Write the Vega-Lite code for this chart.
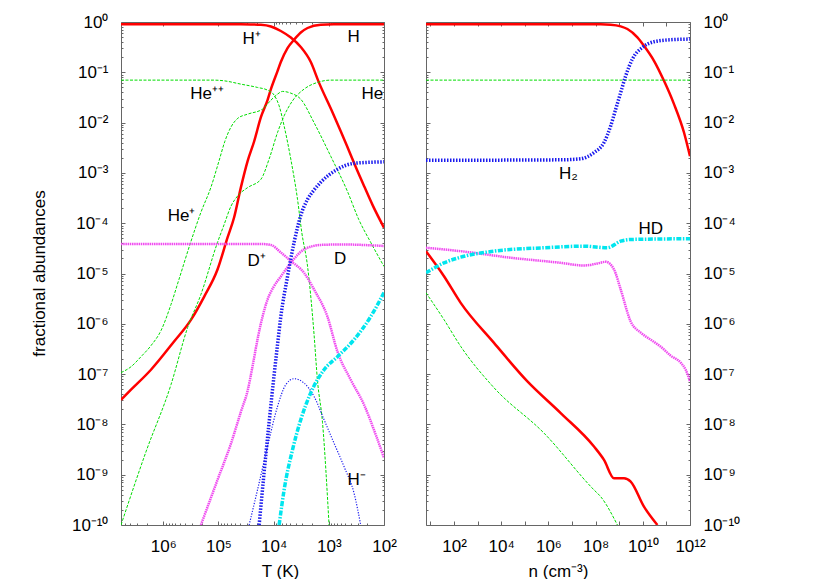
{
  "$schema": "https://vega.github.io/schema/vega-lite/v6.json",
  "background": "white",
  "padding": {"left": 30, "top": 13, "right": 5, "bottom": 0},
  "bounds": "flush",
  "spacing": 42,
  "config": {
    "view": {"stroke": null},
    "font": "Liberation Sans",
    "axis": {"grid": false, "labelFont": "Liberation Sans", "labelFontSize": 17, "labelColor": "#000", "titleFont": "Liberation Sans", "titleFontSize": 17, "titleFontWeight": "normal", "titleColor": "#000", "domainColor": "#666", "tickColor": "#666", "labelFlush": false, "labelOverlap": false, "labelBound": false},
    "text": {"font": "Liberation Sans", "fontSize": 17}
  },
  "datasets": {
    "left": [
      {"s": "H+", "T": 5830000, "v": 0.9}, {"s": "H+", "T": 39200, "v": 0.9}, {"s": "H+", "T": 25900, "v": 0.895}, {"s": "H+", "T": 17000, "v": 0.88}, {"s": "H+", "T": 11200, "v": 0.814}, {"s": "H+", "T": 7410, "v": 0.662}, {"s": "H+", "T": 4880, "v": 0.491}, {"s": "H+", "T": 3220, "v": 0.318}, {"s": "H+", "T": 2120, "v": 0.16}, {"s": "H+", "T": 1520, "v": 0.0638}, {"s": "H+", "T": 859, "v": 0.0161}, {"s": "H+", "T": 608, "v": 0.00674}, {"s": "H+", "T": 435, "v": 0.00282}, {"s": "H+", "T": 312, "v": 0.00118}, {"s": "H+", "T": 224, "v": 0.000516}, {"s": "H+", "T": 160, "v": 0.000226}, {"s": "H+", "T": 100, "v": 0.0000813},
      {"s": "H", "T": 5830000, "v": 3.09e-8}, {"s": "H", "T": 3840000, "v": 4.89e-8}, {"s": "H", "T": 1670000, "v": 1.22e-7}, {"s": "H", "T": 632000, "v": 4.5e-7}, {"s": "H", "T": 315000, "v": 1.2e-6}, {"s": "H", "T": 181000, "v": 3.48e-6}, {"s": "H", "T": 104000, "v": 1.2e-5}, {"s": "H", "T": 68300, "v": 5.21e-5}, {"s": "H", "T": 51900, "v": 1.31e-4}, {"s": "H", "T": 39200, "v": 5.16e-4}, {"s": "H", "T": 29700, "v": 0.0017}, {"s": "H", "T": 22500, "v": 0.00426}, {"s": "H", "T": 17000, "v": 0.0128}, {"s": "H", "T": 12900, "v": 0.0279}, {"s": "H", "T": 11200, "v": 0.0463}, {"s": "H", "T": 8500, "v": 0.1057}, {"s": "H", "T": 7410, "v": 0.16}, {"s": "H", "T": 5600, "v": 0.303}, {"s": "H", "T": 4260, "v": 0.444}, {"s": "H", "T": 3220, "v": 0.62}, {"s": "H", "T": 2430, "v": 0.76}, {"s": "H", "T": 1400, "v": 0.885}, {"s": "H", "T": 814, "v": 0.9}, {"s": "H", "T": 100, "v": 0.9},
      {"s": "He++", "T": 5830000, "v": 0.0699}, {"s": "He++", "T": 121000, "v": 0.0699}, {"s": "He++", "T": 78700, "v": 0.0677}, {"s": "He++", "T": 39200, "v": 0.0582}, {"s": "He++", "T": 19600, "v": 0.05}, {"s": "He++", "T": 12900, "v": 0.0442}, {"s": "He++", "T": 9790, "v": 0.0352}, {"s": "He++", "T": 7950, "v": 0.0215}, {"s": "He++", "T": 6460, "v": 0.0086}, {"s": "He++", "T": 4880, "v": 0.00187}, {"s": "He++", "T": 3690, "v": 0.000298}, {"s": "He++", "T": 3090, "v": 6.56e-5}, {"s": "He++", "T": 2430, "v": 1.4e-5}, {"s": "He++", "T": 1850, "v": 6.1e-7}, {"s": "He++", "T": 1610, "v": 7.73e-8}, {"s": "He++", "T": 1300, "v": 1.08e-8}, {"s": "He++", "T": 990, "v": 1e-10},
      {"s": "He+", "T": 5830000, "v": 1.07e-7}, {"s": "He+", "T": 3840000, "v": 1.4e-7}, {"s": "He+", "T": 2530000, "v": 2.22e-7}, {"s": "He+", "T": 1670000, "v": 3.68e-7}, {"s": "He+", "T": 1100000, "v": 7.32e-7}, {"s": "He+", "T": 725000, "v": 2.41e-6}, {"s": "He+", "T": 520000, "v": 7.59e-6}, {"s": "He+", "T": 315000, "v": 4.34e-5}, {"s": "He+", "T": 208000, "v": 1.64e-4}, {"s": "He+", "T": 137000, "v": 5.16e-4}, {"s": "He+", "T": 98100, "v": 0.0017}, {"s": "He+", "T": 76400, "v": 0.00426}, {"s": "He+", "T": 59500, "v": 0.0081}, {"s": "He+", "T": 44500, "v": 0.0122}, {"s": "He+", "T": 29700, "v": 0.0147}, {"s": "He+", "T": 15900, "v": 0.0185}, {"s": "He+", "T": 11200, "v": 0.0279}, {"s": "He+", "T": 8500, "v": 0.0368}, {"s": "He+", "T": 6900, "v": 0.0417}, {"s": "He+", "T": 4880, "v": 0.0385}, {"s": "He+", "T": 3220, "v": 0.0292}, {"s": "He+", "T": 1870, "v": 0.0102}, {"s": "He+", "T": 922, "v": 0.00214}, {"s": "He+", "T": 460, "v": 0.00043}, {"s": "He+", "T": 287, "v": 1.19e-4}, {"s": "He+", "T": 174, "v": 4.15e-5}, {"s": "He+", "T": 100, "v": 1.38e-5},
      {"s": "He", "T": 5830000, "v": 1e-10}, {"s": "He", "T": 2060000, "v": 2.84e-9}, {"s": "He", "T": 725000, "v": 6.15e-8}, {"s": "He", "T": 362000, "v": 8.4e-7}, {"s": "He", "T": 208000, "v": 3.82e-6}, {"s": "He", "T": 104000, "v": 4.15e-5}, {"s": "He", "T": 78700, "v": 9.46e-5}, {"s": "He", "T": 59500, "v": 2.16e-4}, {"s": "He", "T": 45000, "v": 3.47e-4}, {"s": "He", "T": 29700, "v": 5.09e-4}, {"s": "He", "T": 17000, "v": 7.46e-4}, {"s": "He", "T": 12100, "v": 0.00187}, {"s": "He", "T": 8500, "v": 0.00635}, {"s": "He", "T": 6460, "v": 0.0136}, {"s": "He", "T": 4550, "v": 0.0271}, {"s": "He", "T": 2810, "v": 0.0463}, {"s": "He", "T": 1610, "v": 0.0629}, {"s": "He", "T": 922, "v": 0.0699}, {"s": "He", "T": 100, "v": 0.0699},
      {"s": "D+", "T": 5830000, "v": 3.87e-5}, {"s": "D+", "T": 17000, "v": 3.87e-5}, {"s": "D+", "T": 11200, "v": 3.7e-5}, {"s": "D+", "T": 7410, "v": 2.62e-5}, {"s": "D+", "T": 4880, "v": 1.77e-5}, {"s": "D+", "T": 2810, "v": 1.03e-5}, {"s": "D+", "T": 1850, "v": 4.8e-6}, {"s": "D+", "T": 1060, "v": 1.39e-6}, {"s": "D+", "T": 697, "v": 2.79e-7}, {"s": "D+", "T": 401, "v": 7.73e-8}, {"s": "D+", "T": 230, "v": 2.46e-8}, {"s": "D+", "T": 141, "v": 6.21e-9}, {"s": "D+", "T": 100, "v": 2.16e-9},
      {"s": "D", "T": 208000, "v": 1e-10}, {"s": "D", "T": 104000, "v": 7.87e-10}, {"s": "D", "T": 59500, "v": 4.11e-9}, {"s": "D", "T": 39200, "v": 1.78e-8}, {"s": "D", "T": 29300, "v": 4.89e-8}, {"s": "D", "T": 23800, "v": 1.54e-7}, {"s": "D", "T": 19300, "v": 5.31e-7}, {"s": "D", "T": 15700, "v": 1.46e-6}, {"s": "D", "T": 12900, "v": 3.03e-6}, {"s": "D", "T": 9920, "v": 5.51e-6}, {"s": "D", "T": 7410, "v": 8.71e-6}, {"s": "D", "T": 4880, "v": 1.63e-5}, {"s": "D", "T": 2810, "v": 3.01e-5}, {"s": "D", "T": 1400, "v": 3.7e-5}, {"s": "D", "T": 608, "v": 3.78e-5}, {"s": "D", "T": 100, "v": 3.53e-5},
      {"s": "H2", "T": 18300, "v": 1e-10}, {"s": "H2", "T": 14900, "v": 1.09e-9}, {"s": "H2", "T": 12100, "v": 1.08e-8}, {"s": "H2", "T": 9790, "v": 9.73e-8}, {"s": "H2", "T": 8500, "v": 3.85e-7}, {"s": "H2", "T": 7410, "v": 1.39e-6}, {"s": "H2", "T": 5600, "v": 8.71e-6}, {"s": "H2", "T": 4260, "v": 4.15e-5}, {"s": "H2", "T": 3220, "v": 1.43e-4}, {"s": "H2", "T": 2430, "v": 2.98e-4}, {"s": "H2", "T": 1870, "v": 4.5e-4}, {"s": "H2", "T": 1400, "v": 6.5e-4}, {"s": "H2", "T": 697, "v": 0.00118}, {"s": "H2", "T": 349, "v": 0.00155}, {"s": "H2", "T": 100, "v": 0.00166},
      {"s": "H-", "T": 27800, "v": 1e-10}, {"s": "H-", "T": 19600, "v": 4.98e-10}, {"s": "H-", "T": 12900, "v": 3.63e-9}, {"s": "H-", "T": 8500, "v": 2.27e-8}, {"s": "H-", "T": 6020, "v": 6.15e-8}, {"s": "H-", "T": 4260, "v": 8.09e-8}, {"s": "H-", "T": 2810, "v": 6.65e-8}, {"s": "H-", "T": 1850, "v": 3.59e-8}, {"s": "H-", "T": 1220, "v": 1.24e-8}, {"s": "H-", "T": 804, "v": 4.24e-9}, {"s": "H-", "T": 530, "v": 1.45e-9}, {"s": "H-", "T": 349, "v": 4.28e-10}, {"s": "H-", "T": 264, "v": 1e-10},
      {"s": "HD", "T": 7950, "v": 1e-10}, {"s": "HD", "T": 6460, "v": 4.98e-10}, {"s": "HD", "T": 4550, "v": 3.12e-9}, {"s": "HD", "T": 3220, "v": 1.24e-8}, {"s": "HD", "T": 2120, "v": 4.26e-8}, {"s": "HD", "T": 1220, "v": 1.22e-7}, {"s": "HD", "T": 697, "v": 2.22e-7}, {"s": "HD", "T": 349, "v": 4.84e-7}, {"s": "HD", "T": 174, "v": 1.39e-6}, {"s": "HD", "T": 100, "v": 4.19e-6}
    ],
    "right": [
      {"s": "H", "n": 6.51, "v": 0.9}, {"s": "H", "n": 1.64e8, "v": 0.9}, {"s": "H", "n": 4.36e8, "v": 0.885}, {"s": "H", "n": 1.16e9, "v": 0.82}, {"s": "H", "n": 2.23e9, "v": 0.725}, {"s": "H", "n": 5.9e9, "v": 0.496}, {"s": "H", "n": 1.12e10, "v": 0.337}, {"s": "H", "n": 2.98e10, "v": 0.1695}, {"s": "H", "n": 7.91e10, "v": 0.0677}, {"s": "H", "n": 2.1e11, "v": 0.0233}, {"s": "H", "n": 5.57e11, "v": 0.00635}, {"s": "H", "n": 1e12, "v": 0.00214},
      {"s": "H+", "n": 6.51, "v": 2.78e-5}, {"s": "H+", "n": 37.7, "v": 8.83e-6}, {"s": "H+", "n": 192, "v": 2.61e-6}, {"s": "H+", "n": 4955, "v": 4.17e-7}, {"s": "H+", "n": 129000, "v": 7.16e-8}, {"s": "H+", "n": 3320000, "v": 1.68e-8}, {"s": "H+", "n": 8.55e7, "v": 3.63e-9}, {"s": "H+", "n": 2.27e8, "v": 1.97e-9}, {"s": "H+", "n": 6.02e8, "v": 8.51e-10}, {"s": "H+", "n": 1.6e9, "v": 8.51e-10}, {"s": "H+", "n": 3.07e9, "v": 7.29e-10}, {"s": "H+", "n": 1.12e10, "v": 2.32e-10}, {"s": "H+", "n": 4.16e10, "v": 1e-10},
      {"s": "He", "n": 6.51, "v": 0.0699}, {"s": "He", "n": 1e12, "v": 0.0699},
      {"s": "He+", "n": 6.51, "v": 4.13e-6}, {"s": "He+", "n": 37.7, "v": 1.21e-6}, {"s": "He+", "n": 192, "v": 3.56e-7}, {"s": "He+", "n": 4955, "v": 5.36e-8}, {"s": "He+", "n": 651000, "v": 6.71e-9}, {"s": "He+", "n": 8.55e7, "v": 4.98e-10}, {"s": "He+", "n": 1.64e8, "v": 3.66e-10}, {"s": "He+", "n": 8.39e8, "v": 1e-10},
      {"s": "H2", "n": 6.51, "v": 0.00178}, {"s": "H2", "n": 3320000, "v": 0.00182}, {"s": "H2", "n": 2.34e7, "v": 0.00191}, {"s": "H2", "n": 8.55e7, "v": 0.00254}, {"s": "H2", "n": 2.27e8, "v": 0.00402}, {"s": "H2", "n": 4.36e8, "v": 0.0086}, {"s": "H2", "n": 7.11e8, "v": 0.0185}, {"s": "H2", "n": 1.16e9, "v": 0.0398}, {"s": "H2", "n": 1.89e9, "v": 0.0852}, {"s": "H2", "n": 3.63e9, "v": 0.183}, {"s": "H2", "n": 9.62e9, "v": 0.313}, {"s": "H2", "n": 2.98e10, "v": 0.405}, {"s": "H2", "n": 1.52e11, "v": 0.444}, {"s": "H2", "n": 1e12, "v": 0.458},
      {"s": "HD", "n": 6.51, "v": 1.03e-5}, {"s": "HD", "n": 37.7, "v": 1.63e-5}, {"s": "HD", "n": 192, "v": 2.11e-5}, {"s": "HD", "n": 4955, "v": 2.78e-5}, {"s": "HD", "n": 651000, "v": 3.25e-5}, {"s": "HD", "n": 3.23e7, "v": 3.5e-5}, {"s": "HD", "n": 3.16e8, "v": 3.25e-5}, {"s": "HD", "n": 1.16e9, "v": 4.4e-5}, {"s": "HD", "n": 3.07e9, "v": 4.75e-5}, {"s": "HD", "n": 1e12, "v": 4.91e-5},
      {"s": "D", "n": 6.51, "v": 3.25e-5}, {"s": "D", "n": 192, "v": 2.78e-5}, {"s": "D", "n": 25300, "v": 2.06e-5}, {"s": "D", "n": 3320000, "v": 1.63e-5}, {"s": "D", "n": 3.23e7, "v": 1.44e-5}, {"s": "D", "n": 1.19e8, "v": 1.58e-5}, {"s": "D", "n": 2.68e8, "v": 1.71e-5}, {"s": "D", "n": 6.02e8, "v": 1.2e-5}, {"s": "D", "n": 1.16e9, "v": 4.8e-6}, {"s": "D", "n": 3.07e9, "v": 1.11e-6}, {"s": "D", "n": 8.15e9, "v": 6.68e-7}, {"s": "D", "n": 2.16e10, "v": 4.84e-7}, {"s": "D", "n": 5.73e10, "v": 3.51e-7}, {"s": "D", "n": 1.52e11, "v": 2.33e-7}, {"s": "D", "n": 4.04e11, "v": 1.69e-7}, {"s": "D", "n": 6.57e11, "v": 1.22e-7}, {"s": "D", "n": 1e12, "v": 7.16e-8}
    ],
    "leftLabels": [
      {"t": "H⁺", "T": 36600, "v": 0.3645},
      {"t": "H", "T": 460, "v": 0.394},
      {"t": "He⁺⁺", "T": 325000, "v": 0.0292},
      {"t": "He", "T": 257, "v": 0.0292},
      {"t": "He⁺", "T": 833000, "v": 1.1e-4},
      {"t": "D⁺", "T": 29700, "v": 1.4e-5},
      {"t": "D", "T": 804, "v": 1.51e-5},
      {"t": "H⁻", "T": 460, "v": 6.27e-10}
    ],
    "rightLabels": [
      {"t": "H₂", "n": 2810000, "v": 7.46e-4},
      {"t": "HD", "n": 6.51e9, "v": 5.98e-5}
    ]
  },
  "hconcat": [
    {
      "width": 263,
      "height": 503,
      "resolve": {"axis": {"x": "independent", "y": "independent"}},
      "layer": [
        {
          "data": {"name": "left"},
          "encoding": {
            "x": {"field": "T", "type": "quantitative", "scale": {"type": "log", "domain": [100, 5830000], "reverse": true, "nice": false},
              "axis": {"orient": "bottom", "values": [100,200,300,400,500,600,700,800,900,1000,2000,3000,4000,5000,6000,7000,8000,9000,10000,20000,30000,40000,50000,60000,70000,80000,90000,100000,200000,300000,400000,500000,600000,700000,800000,900000,1000000,2000000,3000000,4000000,5000000],
                "labelExpr": "abs(log(datum.value)/LN10 - round(log(datum.value)/LN10)) < 0.001 ? '10' + replace(replace(replace(replace(replace(replace(replace(replace(replace(replace(replace(toString(round(log(datum.value)/LN10)),'-','⁻'),'0','⁰'),'1','¹'),'2','²'),'3','³'),'4','⁴'),'5','⁵'),'6','⁶'),'7','⁷'),'8','⁸'),'9','⁹') : ''",
                "tickSize": {"condition": {"test": "abs(log(datum.value)/LN10 - round(log(datum.value)/LN10)) < 0.001", "value": -4}, "value": -2},
                "labelPadding": 17, "labelBaseline": "top",
                "title": "T (K)", "titleX": 159, "titleY": 38, "titleBaseline": "top", "titleAlign": "center"}},
            "y": {"field": "v", "type": "quantitative", "scale": {"type": "log", "domain": [1e-10, 1], "nice": false},
              "axis": {"orient": "left", "values": [1e-10,2e-10,3e-10,4e-10,5e-10,6e-10,7e-10,8e-10,9e-10,1e-9,2e-9,3e-9,4e-9,5e-9,6e-9,7e-9,8e-9,9e-9,1e-8,2e-8,3e-8,4e-8,5e-8,6e-8,7e-8,8e-8,9e-8,1e-7,2e-7,3e-7,4e-7,5e-7,6e-7,7e-7,8e-7,9e-7,1e-6,2e-6,3e-6,4e-6,5e-6,6e-6,7e-6,8e-6,9e-6,1e-5,2e-5,3e-5,4e-5,5e-5,6e-5,7e-5,8e-5,9e-5,1e-4,2e-4,3e-4,4e-4,5e-4,6e-4,7e-4,8e-4,9e-4,0.001,0.002,0.003,0.004,0.005,0.006,0.007,0.008,0.009,0.01,0.02,0.03,0.04,0.05,0.06,0.07,0.08,0.09,0.1,0.2,0.3,0.4,0.5,0.6,0.7,0.8,0.9,1],
                "labelExpr": "abs(log(datum.value)/LN10 - round(log(datum.value)/LN10)) < 0.001 ? '10' + replace(replace(replace(replace(replace(replace(replace(replace(replace(replace(replace(toString(round(log(datum.value)/LN10)),'-','⁻'),'0','⁰'),'1','¹'),'2','²'),'3','³'),'4','⁴'),'5','⁵'),'6','⁶'),'7','⁷'),'8','⁸'),'9','⁹') : ''",
                "tickSize": {"condition": {"test": "abs(log(datum.value)/LN10 - round(log(datum.value)/LN10)) < 0.001", "value": -4}, "value": -2},
                "labelPadding": 17, "labelBaseline": "middle",
                "title": "fractional abundances", "titleAngle": -90, "titleX": -82, "titleY": 251, "titleAlign": "center", "titleBaseline": "middle"}},
            "detail": {"field": "s"}
          },
          "layer": [
            {"transform": [{"filter": "datum.s === 'H+' || datum.s === 'H'"}], "mark": {"type": "line", "clip": true, "interpolate": "monotone", "color": "#ff0000", "strokeWidth": 2.5}},
            {"transform": [{"filter": "datum.s === 'He++' || datum.s === 'He+' || datum.s === 'He'"}], "mark": {"type": "line", "clip": true, "interpolate": "monotone", "color": "#00dd00", "strokeWidth": 1, "strokeDash": [3, 1.5]}},
            {"transform": [{"filter": "datum.s === 'D+' || datum.s === 'D'"}], "mark": {"type": "line", "clip": true, "interpolate": "monotone", "color": "#f04cf0", "strokeWidth": 2.5, "strokeDash": [1.5, 0.7]}},
            {"transform": [{"filter": "datum.s === 'H2'"}], "mark": {"type": "line", "clip": true, "interpolate": "monotone", "color": "#1a1aee", "strokeWidth": 3.5, "strokeDash": [1.5, 1.5]}},
            {"transform": [{"filter": "datum.s === 'H-'"}], "mark": {"type": "line", "clip": true, "interpolate": "monotone", "color": "#1a1aee", "strokeWidth": 1.2, "strokeDash": [1.2, 1.5]}},
            {"transform": [{"filter": "datum.s === 'HD'"}], "mark": {"type": "line", "clip": true, "interpolate": "monotone", "color": "#00e5ee", "strokeWidth": 3.5, "strokeDash": [5, 1.5, 1.5, 1.5]}}
          ]
        },
        {
          "data": {"name": "leftLabels"},
          "mark": {"type": "text", "align": "left", "baseline": "alphabetic", "fontSize": 17, "color": "#000"},
          "encoding": {
            "x": {"field": "T", "type": "quantitative", "scale": {"type": "log", "domain": [100, 5830000], "reverse": true, "nice": false},
              "axis": {"orient": "top", "values": [100,200,300,400,500,600,700,800,900,1000,2000,3000,4000,5000,6000,7000,8000,9000,10000,20000,30000,40000,50000,60000,70000,80000,90000,100000,200000,300000,400000,500000,600000,700000,800000,900000,1000000,2000000,3000000,4000000,5000000], "labels": false, "title": null,
                "tickSize": {"condition": {"test": "abs(log(datum.value)/LN10 - round(log(datum.value)/LN10)) < 0.001", "value": -4}, "value": -2}}},
            "y": {"field": "v", "type": "quantitative", "scale": {"type": "log", "domain": [1e-10, 1], "nice": false},
              "axis": {"orient": "right", "values": [1e-10,2e-10,3e-10,4e-10,5e-10,6e-10,7e-10,8e-10,9e-10,1e-9,2e-9,3e-9,4e-9,5e-9,6e-9,7e-9,8e-9,9e-9,1e-8,2e-8,3e-8,4e-8,5e-8,6e-8,7e-8,8e-8,9e-8,1e-7,2e-7,3e-7,4e-7,5e-7,6e-7,7e-7,8e-7,9e-7,1e-6,2e-6,3e-6,4e-6,5e-6,6e-6,7e-6,8e-6,9e-6,1e-5,2e-5,3e-5,4e-5,5e-5,6e-5,7e-5,8e-5,9e-5,1e-4,2e-4,3e-4,4e-4,5e-4,6e-4,7e-4,8e-4,9e-4,0.001,0.002,0.003,0.004,0.005,0.006,0.007,0.008,0.009,0.01,0.02,0.03,0.04,0.05,0.06,0.07,0.08,0.09,0.1,0.2,0.3,0.4,0.5,0.6,0.7,0.8,0.9,1], "labels": false, "title": null,
                "tickSize": {"condition": {"test": "abs(log(datum.value)/LN10 - round(log(datum.value)/LN10)) < 0.001", "value": -4}, "value": -2}}},
            "text": {"field": "t"}
          }
        }
      ]
    },
    {
      "width": 264,
      "height": 503,
      "resolve": {"axis": {"x": "independent", "y": "independent"}},
      "layer": [
        {
          "data": {"name": "right"},
          "encoding": {
            "x": {"field": "n", "type": "quantitative", "scale": {"type": "log", "domain": [6.51, 1000000000000], "nice": false},
              "axis": {"orient": "bottom", "values": [10,100,1000,10000,100000,1000000,10000000,100000000,1000000000,10000000000,100000000000,1000000000000],
                "labelExpr": "round(log(datum.value)/LN10) % 2 == 0 ? '10' + replace(replace(replace(replace(replace(replace(replace(replace(replace(replace(replace(toString(round(log(datum.value)/LN10)),'-','⁻'),'0','⁰'),'1','¹'),'2','²'),'3','³'),'4','⁴'),'5','⁵'),'6','⁶'),'7','⁷'),'8','⁸'),'9','⁹') : ''",
                "tickSize": -4, "labelPadding": 17, "labelBaseline": "top",
                "title": "n (cm⁻³)", "titleY": 38, "titleBaseline": "top", "titleAlign": "center"}},
            "y": {"field": "v", "type": "quantitative", "scale": {"type": "log", "domain": [1e-10, 1], "nice": false},
              "axis": {"orient": "right", "values": [1e-10,2e-10,3e-10,4e-10,5e-10,6e-10,7e-10,8e-10,9e-10,1e-9,2e-9,3e-9,4e-9,5e-9,6e-9,7e-9,8e-9,9e-9,1e-8,2e-8,3e-8,4e-8,5e-8,6e-8,7e-8,8e-8,9e-8,1e-7,2e-7,3e-7,4e-7,5e-7,6e-7,7e-7,8e-7,9e-7,1e-6,2e-6,3e-6,4e-6,5e-6,6e-6,7e-6,8e-6,9e-6,1e-5,2e-5,3e-5,4e-5,5e-5,6e-5,7e-5,8e-5,9e-5,1e-4,2e-4,3e-4,4e-4,5e-4,6e-4,7e-4,8e-4,9e-4,0.001,0.002,0.003,0.004,0.005,0.006,0.007,0.008,0.009,0.01,0.02,0.03,0.04,0.05,0.06,0.07,0.08,0.09,0.1,0.2,0.3,0.4,0.5,0.6,0.7,0.8,0.9,1],
                "labelExpr": "abs(log(datum.value)/LN10 - round(log(datum.value)/LN10)) < 0.001 ? '10' + replace(replace(replace(replace(replace(replace(replace(replace(replace(replace(replace(toString(round(log(datum.value)/LN10)),'-','⁻'),'0','⁰'),'1','¹'),'2','²'),'3','³'),'4','⁴'),'5','⁵'),'6','⁶'),'7','⁷'),'8','⁸'),'9','⁹') : ''",
                "tickSize": {"condition": {"test": "abs(log(datum.value)/LN10 - round(log(datum.value)/LN10)) < 0.001", "value": -4}, "value": -2},
                "labelPadding": 17, "labelBaseline": "middle", "title": null}},
            "detail": {"field": "s"}
          },
          "layer": [
            {"transform": [{"filter": "datum.s === 'H+' || datum.s === 'H'"}], "mark": {"type": "line", "clip": true, "interpolate": "monotone", "color": "#ff0000", "strokeWidth": 2.5}},
            {"transform": [{"filter": "datum.s === 'He+' || datum.s === 'He'"}], "mark": {"type": "line", "clip": true, "interpolate": "monotone", "color": "#00dd00", "strokeWidth": 1, "strokeDash": [3, 1.5]}},
            {"transform": [{"filter": "datum.s === 'D'"}], "mark": {"type": "line", "clip": true, "interpolate": "monotone", "color": "#f04cf0", "strokeWidth": 2.5, "strokeDash": [1.5, 0.7]}},
            {"transform": [{"filter": "datum.s === 'H2'"}], "mark": {"type": "line", "clip": true, "interpolate": "monotone", "color": "#1a1aee", "strokeWidth": 3.5, "strokeDash": [1.5, 1.5]}},
            {"transform": [{"filter": "datum.s === 'HD'"}], "mark": {"type": "line", "clip": true, "interpolate": "monotone", "color": "#00e5ee", "strokeWidth": 3.5, "strokeDash": [5, 1.5, 1.5, 1.5]}}
          ]
        },
        {
          "data": {"name": "rightLabels"},
          "mark": {"type": "text", "align": "left", "baseline": "alphabetic", "fontSize": 17, "color": "#000"},
          "encoding": {
            "x": {"field": "n", "type": "quantitative", "scale": {"type": "log", "domain": [6.51, 1000000000000], "nice": false},
              "axis": {"orient": "top", "values": [10,100,1000,10000,100000,1000000,10000000,100000000,1000000000,10000000000,100000000000,1000000000000], "labels": false, "title": null, "tickSize": -4}},
            "y": {"field": "v", "type": "quantitative", "scale": {"type": "log", "domain": [1e-10, 1], "nice": false},
              "axis": {"orient": "left", "values": [1e-10,2e-10,3e-10,4e-10,5e-10,6e-10,7e-10,8e-10,9e-10,1e-9,2e-9,3e-9,4e-9,5e-9,6e-9,7e-9,8e-9,9e-9,1e-8,2e-8,3e-8,4e-8,5e-8,6e-8,7e-8,8e-8,9e-8,1e-7,2e-7,3e-7,4e-7,5e-7,6e-7,7e-7,8e-7,9e-7,1e-6,2e-6,3e-6,4e-6,5e-6,6e-6,7e-6,8e-6,9e-6,1e-5,2e-5,3e-5,4e-5,5e-5,6e-5,7e-5,8e-5,9e-5,1e-4,2e-4,3e-4,4e-4,5e-4,6e-4,7e-4,8e-4,9e-4,0.001,0.002,0.003,0.004,0.005,0.006,0.007,0.008,0.009,0.01,0.02,0.03,0.04,0.05,0.06,0.07,0.08,0.09,0.1,0.2,0.3,0.4,0.5,0.6,0.7,0.8,0.9,1], "labels": false, "title": null,
                "tickSize": {"condition": {"test": "abs(log(datum.value)/LN10 - round(log(datum.value)/LN10)) < 0.001", "value": -4}, "value": -2}}},
            "text": {"field": "t"}
          }
        }
      ]
    }
  ]
}
